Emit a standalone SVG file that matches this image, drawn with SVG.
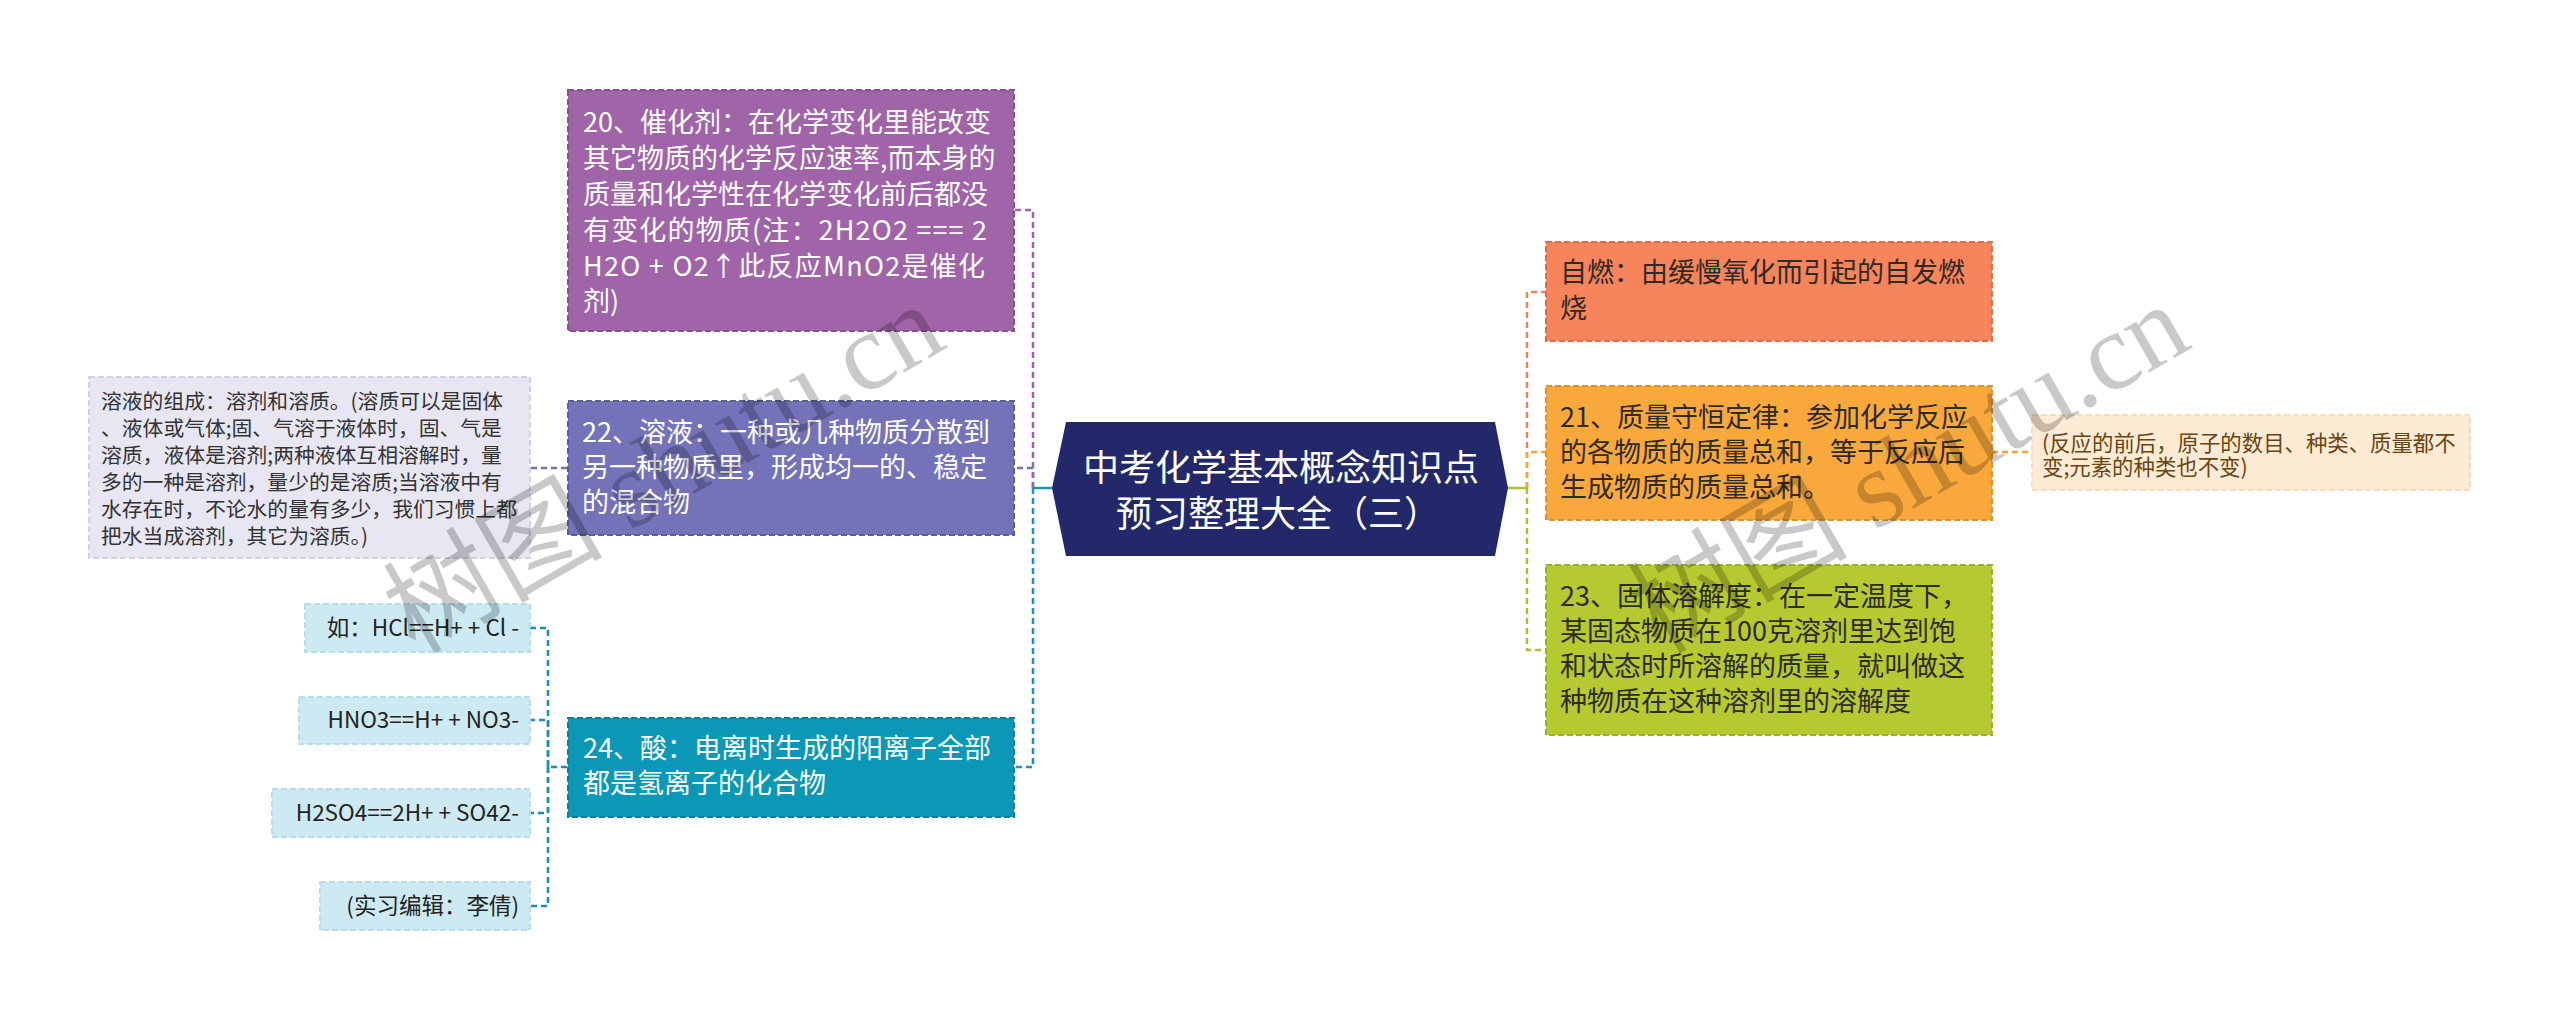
<svg xmlns="http://www.w3.org/2000/svg" width="2560" height="1020" viewBox="0 0 2560 1020">
<style>
text{font-family:"Noto Sans CJK SC","Liberation Sans",sans-serif;}
.t27{font-size:27px;}
.w{fill:#ffffff;}
.dk{fill:#2e2a26;}
.c{fill:none;stroke-width:2.5;stroke-dasharray:6 4;}
.box{stroke-width:2;stroke-dasharray:6 3;}
.g{font-size:20.8px;fill:#333333;}
.leaf{font-size:22.5px;fill:#222222;text-anchor:end;}
.wm{font-family:"Liberation Serif","Noto Sans CJK SC",serif;font-size:110px;fill:#000;fill-opacity:0.21;}
</style>
<rect width="2560" height="1020" fill="#ffffff"/>
<g id="connectors">
<path class="c" stroke="#7472b6" d="M1033,488 V468 H1014"/>
<path class="c" stroke="#a064a8" d="M1033,488 V210 H1014"/>
<path class="c" stroke="#1596b2" d="M1033,488 V767 H1014"/>
<path d="M1052,488 H1033" stroke="#1596b2" stroke-width="2.5" fill="none"/>
<path class="c" stroke="#77759f" d="M567,468 H530"/>
<path class="c" stroke="#1a8fb0" d="M567,767 H548 V628 H530"/>
<path class="c" stroke="#1a8fb0" d="M548,767 V720 H530"/>
<path class="c" stroke="#1a8fb0" d="M548,767 V813 H530"/>
<path class="c" stroke="#1a8fb0" d="M548,767 V906 H530"/>
<path class="c" stroke="#f0845a" d="M1527,488 V292 H1546"/>
<path class="c" stroke="#f4a53c" d="M1527,488 V452 H1546"/>
<path class="c" stroke="#a9c136" d="M1527,488 V650 H1546"/>
<path d="M1508,488 H1527" stroke="#a9c136" stroke-width="2.5" fill="none"/>
<path class="c" stroke="#f4a53c" d="M1992,452 H2032"/>
</g>
<g id="root">
<polygon points="1052,488 1066,422 1495,422 1508,488 1495,556 1066,556" fill="#22286a"/>
<text x="1083" y="481" font-size="36" fill="#ffffff">中考化学基本概念知识点</text>
<text x="1116" y="527" font-size="36" fill="#ffffff">预习整理大全（三）</text>
</g>
<g id="n20">
<rect class="box" x="568" y="90" width="446" height="241" fill="#a064a8" stroke="#86508f"/>
<text class="t27 w" x="583" y="132">20、催化剂：在化学变化里能改变</text>
<text class="t27 w" x="583" y="168">其它物质的化学反应速率,而本身的</text>
<text class="t27 w" x="583" y="204">质量和化学性在化学变化前后都没</text>
<text class="t27 w" x="583" y="240" textLength="404" lengthAdjust="spacing">有变化的物质(注：2H2O2 === 2</text>
<text class="t27 w" x="583" y="276" textLength="402" lengthAdjust="spacing">H2O + O2↑此反应MnO2是催化</text>
<text class="t27 w" x="583" y="311">剂)</text>
</g>
<g id="n22">
<rect class="box" x="568" y="401" width="446" height="134" fill="#7472b8" stroke="#5d5b9c"/>
<text class="t27 w" x="582" y="442">22、溶液：一种或几种物质分散到</text>
<text class="t27 w" x="582" y="477">另一种物质里，形成均一的、稳定</text>
<text class="t27 w" x="582" y="512">的混合物</text>
</g>
<g id="n22a">
<rect class="box" x="89" y="377" width="441" height="181" fill="#e7e6f2" stroke="#d2d0e4"/>
<text class="g" x="101" y="409">溶液的组成：溶剂和溶质。(溶质可以是固体</text>
<text class="g" x="101" y="436">、液体或气体;固、气溶于液体时，固、气是</text>
<text class="g" x="101" y="463">溶质，液体是溶剂;两种液体互相溶解时，量</text>
<text class="g" x="101" y="490">多的一种是溶剂，量少的是溶质;当溶液中有</text>
<text class="g" x="101" y="517">水存在时，不论水的量有多少，我们习惯上都</text>
<text class="g" x="101" y="544">把水当成溶剂，其它为溶质。)</text>
</g>
<g id="n24">
<rect class="box" x="568" y="718" width="446" height="99" fill="#0b97b6" stroke="#0a7d98"/>
<text class="t27 w" x="583" y="758">24、酸：电离时生成的阳离子全部</text>
<text class="t27 w" x="583" y="793">都是氢离子的化合物</text>
</g>
<g id="n24a">
<rect class="box" x="305" y="604" width="225" height="48" fill="#cdeaf2" stroke="#b6dde9"/>
<text class="leaf" x="519" y="636">如：HCl==H+ + Cl -</text>
</g>
<g id="n24b">
<rect class="box" x="299" y="697" width="231" height="47" fill="#cdeaf2" stroke="#b6dde9"/>
<text class="leaf" x="519" y="728">HNO3==H+ + NO3-</text>
</g>
<g id="n24c">
<rect class="box" x="272" y="789" width="258" height="48" fill="#cdeaf2" stroke="#b6dde9"/>
<text class="leaf" x="519" y="821">H2SO4==2H+ + SO42-</text>
</g>
<g id="n24d">
<rect class="box" x="320" y="882" width="210" height="48" fill="#cdeaf2" stroke="#b6dde9"/>
<text class="leaf" x="519" y="914">(实习编辑：李倩)</text>
</g>
<g id="nzr">
<rect class="box" x="1546" y="242" width="446" height="99" fill="#f7845a" stroke="#de6e45"/>
<text class="t27 dk" x="1560" y="282">自燃：由缓慢氧化而引起的自发燃</text>
<text class="t27 dk" x="1560" y="318">烧</text>
</g>
<g id="n21">
<rect class="box" x="1546" y="386" width="446" height="134" fill="#f9a93b" stroke="#e29225"/>
<text class="t27 dk" x="1560" y="427">21、质量守恒定律：参加化学反应</text>
<text class="t27 dk" x="1560" y="462">的各物质的质量总和，等于反应后</text>
<text class="t27 dk" x="1560" y="497">生成物质的质量总和。</text>
</g>
<g id="n21a">
<rect class="box" x="2032" y="415" width="438" height="75" fill="#fdebd5" stroke="#f7dcbc"/>
<text x="2042" y="451" font-size="21.4" fill="#6b4410">(反应的前后，原子的数目、种类、质量都不</text>
<text x="2042" y="475" font-size="21.4" fill="#6b4410">变;元素的种类也不变)</text>
</g>
<g id="n23">
<rect class="box" x="1546" y="565" width="446" height="170" fill="#b5c930" stroke="#9cb020"/>
<text class="t27 dk" x="1560" y="606">23、固体溶解度：在一定温度下，</text>
<text class="t27 dk" x="1560" y="641">某固态物质在100克溶剂里达到饱</text>
<text class="t27 dk" x="1560" y="676">和状态时所溶解的质量，就叫做这</text>
<text class="t27 dk" x="1560" y="711">种物质在这种溶剂里的溶解度</text>
</g>
<g id="watermark">
<text class="wm" transform="translate(415,655) rotate(-30)">树图 shutu.cn</text>
<text class="wm" transform="translate(1660,655) rotate(-30)">树图 shutu.cn</text>
</g>
</svg>
